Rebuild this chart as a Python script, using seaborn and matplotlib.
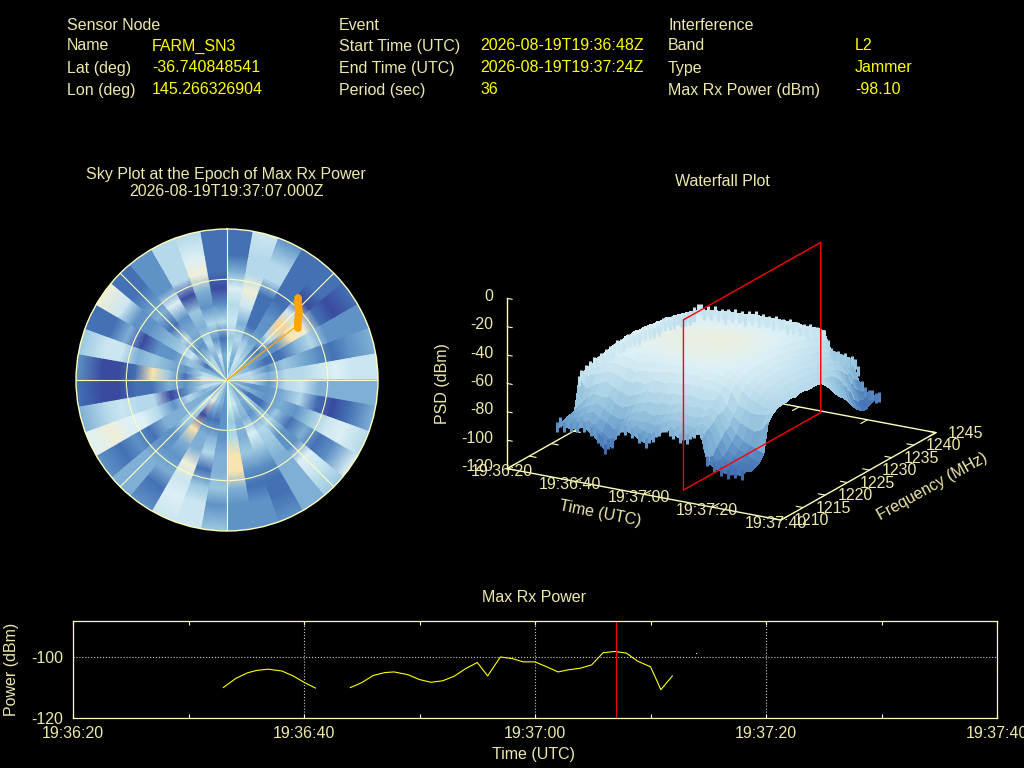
import numpy as np
import pandas as pd
import matplotlib
matplotlib.use("Agg")
import matplotlib.pyplot as plt
import seaborn as sns
from matplotlib.colors import Normalize
from mpl_toolkits.mplot3d.art3d import Line3DCollection

# header block
node_keys = ["Sensor Node", "Name", "Lat (deg)", "Lon (deg)"]
node_vals = ["", "FARM_SN3", "-36.740848541", "145.266326904"]
event_keys = ["Event", "Start Time (UTC)", "End Time (UTC)", "Period (sec)"]
event_vals = ["", "2026-08-19T19:36:48Z", "2026-08-19T19:37:24Z", "36"]
intf_keys = ["Interference", "Band", "Type", "Max Rx Power (dBm)"]
intf_vals = ["", "L2", "Jammer", "-98.10"]

# sky plot, colour level per 10 deg azimuth bin (clockwise from north), inner ring first
sky_ring1 = [3,3,5,5,4,4,6,6,5, 4,4,5,5,3,3,4,4,6, 3,3,4,4,2,2,6,6,5, 6,6,4,4,5,5,3,3,2]
sky_ring2 = [7,3,6,5,3,3,3,5,5, 5,2,3,1,5,3,4,6,7, 2,3,4,8,6,3,3,5,4, 6,5,3,1,4,5,3,6,3]
sky_ring3 = [4,5,4,3,1,2,1,2,3, 2,2,2,1,3,2,3,3,4, 2,1,1,0,4,3,5,2,2, 1,2,4,6,2,2,5,2,1]
sky_ring4 = [6,3,1,2,5,2,1,4,5, 5,3,3,4,5,5,7,3,5, 2,3,3,9,4,3,2,0,3, 4,3,2,4,5,3,3,5,5]
sky_ring5 = [5,6,1,2,10,9,3,3,5, 6,5,2,1,2,4,4,4,9, 3,5,3,3,2,3,5,5,1, 9,4,2,3,1,2,4,2,2]
sky_ring6 = [7,8,1,1,6,8,5,2,6, 3,1,4,3,2,3,2,2,9, 3,1,8,2,2,1,7,5,1, 1,3,0,2,3,7,0,3,0]
sky_ring7 = [3,5,5,1,0,1,2,1,7, 3,0,6,1,7,3,1,1,3, 4,4,6,3,3,2,7,6,0, 0,6,3,2,2,2,5,8,1]
sky_ring8 = [1,5,5,1,1,0,2,2,6, 3,1,7,2,6,3,1,2,2, 2,6,7,1,3,1,8,5,0, 0,6,1,6,1,2,5,7,1]
sky_ring9 = [1,6,2,1,1,1,2,3,6, 3,3,5,7,4,3,2,2,2, 4,6,6,2,3,2,7,3,1, 2,4,1,8,1,2,5,5,1]
sky_r_nodes = [0, 15, 25, 35, 45, 55, 65, 75, 90]
sky_colors = ["#3a4aa0", "#4472b4", "#5f92c6", "#80b0d5", "#9cc8e0", "#b5d9ea",
              "#cbe6f1", "#ddf0f6", "#f0efd8", "#f8e4b0", "#fdcf90"]
sat_az = [40.9, 43.0, 45.8, 48.0, 49.8, 52.0, 53.8]
sat_r = [64.7, 62.0, 59.8, 57.5, 55.4, 53.5, 52.4]
los_az = [0, 52.2]
los_r = [0, 50.4]

# waterfall, seconds after 19:36:20 and MHz
psd_time = [10,12,14,16,18,20,22,24,26,28,30,32,34,36,38,40,42,44,46,48,50,52,54,56,58,60,62,64]
psd_freq = [1213.5 + i for i in range(32)]
psd = [
[-93,-91,-90,-89,-88,-67,-64,-63,-62,-60,-61,-59,-60,-58,-59,-57,-58,-58,-58,-59,-59,-60,-60,-61,-61,-62,-62,-63,-63,-64,-64,-65],
[-90,-92,-89,-87,-82,-74,-66,-60,-57,-56,-55,-54,-53,-54,-52,-53,-52,-54,-53,-54,-55,-54,-56,-55,-57,-57,-58,-59,-60,-61,-62,-63],
[-92,-89,-88,-83,-77,-71,-64,-58,-54,-52,-52,-50,-51,-49,-50,-49,-50,-51,-50,-52,-51,-53,-52,-54,-54,-55,-57,-58,-60,-60,-62,-63],
[-90,-87,-84,-80,-74,-68,-62,-57,-53,-51,-50,-49,-48,-50,-49,-48,-49,-50,-49,-51,-50,-52,-51,-53,-53,-55,-56,-58,-59,-60,-61,-62],
[-89,-87,-82,-78,-75,-66,-61,-56,-53,-50,-49,-48,-49,-47,-48,-47,-48,-49,-48,-50,-49,-51,-52,-52,-54,-54,-56,-57,-58,-59,-60,-62],
[-92,-90,-86,-81,-74,-69,-62,-58,-52,-50,-48,-49,-47,-48,-46,-47,-47,-48,-49,-48,-50,-51,-50,-52,-53,-54,-55,-56,-57,-59,-60,-61],
[-96,-93,-88,-84,-78,-71,-65,-58,-54,-51,-49,-48,-48,-46,-47,-46,-46,-48,-47,-49,-49,-50,-51,-52,-52,-54,-55,-56,-57,-58,-60,-61],
[-102,-97,-92,-86,-80,-73,-66,-60,-55,-51,-50,-48,-47,-47,-46,-46,-47,-47,-48,-48,-50,-49,-51,-51,-53,-53,-55,-56,-57,-58,-59,-61],
[-98,-94,-89,-85,-78,-72,-64,-58,-54,-52,-49,-48,-48,-46,-46,-45,-46,-46,-47,-48,-48,-50,-50,-51,-52,-54,-53,-55,-56,-57,-59,-60],
[-88,-86,-84,-80,-75,-70,-65,-58,-53,-50,-49,-47,-47,-46,-45,-46,-45,-47,-46,-48,-47,-49,-50,-51,-51,-53,-54,-54,-56,-57,-58,-60],
[-86,-85,-82,-78,-74,-67,-62,-57,-52,-50,-48,-47,-46,-46,-45,-45,-46,-45,-47,-47,-48,-48,-50,-50,-52,-52,-54,-55,-55,-57,-58,-60],
[-87,-84,-83,-77,-72,-68,-61,-56,-53,-49,-48,-47,-46,-45,-45,-44,-45,-46,-46,-47,-47,-49,-49,-51,-51,-53,-53,-55,-56,-56,-58,-60],
[-90,-86,-82,-79,-73,-66,-62,-55,-52,-50,-47,-47,-45,-45,-44,-45,-44,-46,-45,-47,-48,-48,-50,-50,-52,-52,-54,-54,-56,-57,-58,-60],
[-92,-88,-84,-78,-71,-67,-60,-56,-51,-49,-48,-46,-46,-44,-45,-44,-45,-45,-46,-46,-48,-47,-49,-50,-51,-52,-53,-55,-55,-57,-58,-60],
[-88,-85,-81,-76,-72,-65,-60,-54,-52,-49,-47,-47,-45,-45,-44,-44,-44,-46,-45,-47,-47,-49,-49,-51,-51,-53,-54,-54,-56,-56,-58,-60],
[-83,-82,-78,-75,-70,-66,-59,-55,-51,-48,-48,-46,-46,-44,-45,-44,-45,-45,-46,-46,-48,-48,-50,-50,-52,-52,-54,-55,-55,-57,-59,-60],
[-79,-80,-77,-73,-69,-64,-60,-54,-52,-49,-47,-47,-45,-45,-45,-45,-45,-46,-46,-47,-47,-49,-49,-51,-52,-53,-53,-55,-56,-57,-58,-61],
[-82,-81,-78,-74,-70,-65,-59,-56,-52,-50,-48,-47,-47,-46,-46,-45,-46,-46,-47,-47,-49,-48,-50,-51,-51,-53,-54,-55,-56,-57,-59,-61],
[-84,-83,-79,-75,-69,-66,-61,-56,-53,-50,-49,-48,-47,-47,-46,-47,-47,-47,-48,-48,-49,-50,-50,-52,-52,-54,-54,-56,-56,-58,-59,-61],
[-84,-82,-80,-74,-71,-65,-60,-57,-54,-51,-50,-49,-49,-48,-48,-48,-48,-49,-49,-50,-50,-51,-52,-52,-54,-54,-56,-56,-58,-58,-60,-62],
[-80,-79,-76,-72,-68,-64,-62,-58,-55,-53,-52,-51,-50,-50,-50,-50,-50,-51,-51,-52,-52,-54,-54,-55,-56,-57,-58,-59,-64,-68,-72,-75],
[-78,-80,-78,-76,-72,-72,-70,-62,-58,-56,-54,-54,-53,-53,-53,-53,-53,-54,-54,-55,-56,-56,-58,-58,-60,-61,-62,-64,-66,-70,-74,-76],
[-97,-95,-90,-86,-82,-80,-76,-70,-62,-59,-58,-57,-56,-56,-56,-55,-56,-57,-57,-58,-58,-60,-61,-62,-63,-64,-66,-67,-70,-73,-76,-77],
[-100,-99,-97,-94,-90,-86,-80,-72,-66,-62,-60,-60,-59,-58,-59,-58,-59,-59,-60,-60,-61,-62,-63,-64,-66,-67,-68,-70,-72,-75,-76,-78],
[-102,-101,-99,-97,-94,-90,-82,-74,-68,-65,-63,-62,-62,-61,-61,-61,-61,-62,-62,-63,-64,-65,-66,-67,-68,-70,-71,-74,-78,-84,-90,-92],
[-103,-102,-101,-100,-96,-92,-84,-74,-70,-67,-66,-65,-64,-64,-63,-64,-64,-65,-65,-66,-67,-68,-69,-70,-72,-74,-76,-80,-88,-94,-98,-99],
[-102,-103,-102,-101,-99,-94,-82,-73,-70,-68,-67,-67,-66,-66,-66,-65,-66,-67,-67,-68,-70,-71,-72,-74,-78,-84,-90,-97,-100,-101,-100,-101],
[-102,-101,-103,-102,-100,-96,-76,-71,-69,-68,-68,-67,-68,-67,-67,-68,-68,-68,-69,-72,-76,-81,-85,-88,-92,-97,-101,-104,-105,-103,-102,-101],
]
# rough edges of the surface, read every second / half MHz along its silhouette
edge_time = list(range(10, 65))
edge_low = [-96,-92,-95,-90,-94,-91,-93,-89,-92,-90,-94,-92,-98,-100,-105,-101,-100,-93,-90,-87,-89,-86,-90,-88,
            -93,-91,-95,-91,-90,-86,-85,-82,-81,-84,-85,-83,-87,-85,-87,-83,-82,-79,-81,-88,-100,-99,-103,-101,
            -105,-102,-106,-103,-105,-102,-105]
edge_back = [-62,-60,-59,-63,-60,-62,-59,-62,-60,-63,-59,-61,-58,-61,-59,-62,-58,-60,-57,-61,-58,-60,-59,-61,-58,
             -60,-59,-62,-58,-61,-59,-62,-60,-62,-59,-61,-60,-62,-61,-68,-73,-75,-74,-76,-75,-77,-76,-78,-82,-92,
             -96,-98,-97,-99,-98]
edge_freq = [1218.5 + 0.5 * i for i in range(53)]
edge_left = [-65,-62,-64,-60,-62,-59,-62,-58,-61,-59,-58,-60,-57,-59,-56,-59,-57,-55,-58,-56,-59,-57,-55,-58,-56,
             -59,-57,-60,-58,-56,-59,-57,-60,-58,-61,-59,-62,-60,-58,-61,-59,-62,-60,-63,-61,-62,-64,-62,-65,-63,
             -66,-64,-66]
epoch_sec = 47
slice_freq = [1213.5, 1244.5]
time_labels = ["19:36:20", "19:36:40", "19:37:00", "19:37:20", "19:37:40"]
time_ticks = [0, 20, 40, 60, 80]
freq_ticks = [1210, 1215, 1220, 1225, 1230, 1235, 1240, 1245]
psd_ticks = [0, -20, -40, -60, -80, -100, -120]

# max rx power trace
pow_t1 = [13.0, 14.1, 15.1, 15.9, 16.9, 18.1, 19.1, 20.1, 21.0]
pow_v1 = [-110.05, -107.0, -105.2, -104.4, -104.0, -104.6, -106.3, -108.5, -110.2]
pow_t2 = [24.0, 25.0, 26.0, 27.0, 27.8, 29.0, 30.0, 31.0, 32.0, 33.0, 34.0, 35.0, 35.9, 37.0, 38.0,
          39.0, 40.0, 41.0, 42.0, 42.9, 43.9, 44.9, 45.9, 46.9, 47.9, 48.9, 50.0, 50.9, 51.9]
pow_v2 = [-110.05, -108.4, -106.05, -105.1, -104.9, -105.8, -107.4, -108.3, -107.8, -106.3, -103.8,
          -101.8, -106.2, -100.0, -100.5, -101.6, -101.6, -103.2, -104.9, -104.2, -103.7, -102.6,
          -98.6, -98.2, -98.7, -101.4, -103.2, -110.7, -106.2]
pow_lone_t = [53.9]
pow_lone_v = [-99.0]

TXT = "#eee8aa"
LINE = "#ffffbb"
W, H = 1024, 768

sns.set_theme(style="dark", rc={"figure.facecolor": "black", "axes.facecolor": "black",
                                "savefig.facecolor": "black", "text.color": TXT,
                                "xtick.color": TXT, "ytick.color": TXT, "axes.labelcolor": TXT,
                                "axes.unicode_minus": False})
plt.rcParams["font.family"] = ["Liberation Sans", "DejaVu Sans"]
plt.rcParams["font.size"] = 11.5

fig = plt.figure(figsize=(W / 100, H / 100), dpi=100)


def put(x, y, s, **kw):
    kw.setdefault("va", "center")
    fig.text(x / W, 1 - (y + 1) / H, s, **kw)


rows_y = [24, 45, 67, 89]
for keys, vals, x0, x1 in [(node_keys, node_vals, 67, 152),
                           (event_keys, event_vals, 339, 480),
                           (intf_keys, intf_vals, 668, 855)]:
    for y, k, v in zip(rows_y, keys, vals):
        put(x0, y, k, color=TXT)
        put(x1, y, v, color="#ffff00")

put(226, 174, "Sky Plot at the Epoch of Max Rx Power", ha="center", color=TXT)
put(226, 190, "2026-08-19T19:37:07.000Z", ha="center", color=TXT)
put(722, 181, "Waterfall Plot", ha="center", color=TXT)
put(534, 596, "Max Rx Power", ha="center", color=TXT)

sky_cmap = sns.blend_palette(sky_colors, n_colors=256, as_cmap=True)

# sky plot: sharp edges between azimuth bins, soft between rings
R = 151
ax_sky = fig.add_axes([(227 - R) / W, (H - 380 - R) / H, 2 * R / W, 2 * R / H], projection="polar")
ax_sky.set_theta_zero_location("N")
ax_sky.set_theta_direction(-1)
sky = np.array([sky_ring1, sky_ring2, sky_ring3, sky_ring4, sky_ring5,
                sky_ring6, sky_ring7, sky_ring8, sky_ring9])
sky = np.repeat(sky, 2, axis=1)
az_nodes = np.deg2rad(np.ravel([[a, a + 9.99] for a in range(0, 360, 10)]))
ax_sky.pcolormesh(az_nodes, sky_r_nodes, sky, cmap=sky_cmap, vmin=0, vmax=10, shading="gouraud", zorder=0)
ax_sky.plot(np.deg2rad(los_az), los_r, color="#ffa500", lw=0.9, zorder=3)
ax_sky.plot(np.deg2rad(sat_az), sat_r, color="#ffa500", lw=5.5, solid_capstyle="round", zorder=3)
ax_sky.set_ylim(0, 90)
ax_sky.set_rgrids([30, 60], labels=[])
ax_sky.set_thetagrids(range(0, 360, 45), labels=[])
ax_sky.set_axisbelow(False)
ax_sky.grid(True, color=LINE, lw=0.8, ls="-")
ax_sky.spines["polar"].set_color(LINE)
ax_sky.spines["polar"].set_linewidth(1)

# waterfall
size = 464
cx, cy = 721.5, 365.5
ax3 = fig.add_axes([(cx - 0.5135 * size) / W, (H - cy - 0.5135 * size) / H, size / W, size / H],
                   projection="3d", computed_zorder=False)
ax3.set_proj_type("ortho")
ax3.view_init(elev=19, azim=-60)
ax3.set_box_aspect((316, 310, 180))
ax3.set_axis_off()
ax3.patch.set_alpha(0)
ax3.set_xlim(0, 80)
ax3.set_ylim(1210, 1245)
ax3.set_zlim(-120, 0)

for xs, ys in [([0, 80], [1210, 1210]), ([0, 0], [1210, 1245]),
               ([80, 80], [1210, 1245]), ([0, 80], [1245, 1245])]:
    ax3.plot(xs, ys, [-120, -120], color=LINE, lw=1, zorder=1)
for t in range(0, 81, 20):
    ax3.plot([t, t], [1210, 1211.5], [-120, -120], color=LINE, lw=0.8, zorder=1)
    ax3.plot([t, t], [1245, 1243.5], [-120, -120], color=LINE, lw=0.8, zorder=1)
for f in freq_ticks:
    ax3.plot([80, 78], [f, f], [-120, -120], color=LINE, lw=0.8, zorder=1)
    ax3.plot([0, 2], [f, f], [-120, -120], color=LINE, lw=0.8, zorder=1)

psd_norm = Normalize(-112, -24)
T, F = np.meshgrid(psd_time, psd_freq, indexing="ij")
ax3.plot_surface(T, F, np.array(psd, dtype=float), cmap=sky_cmap, norm=psd_norm,
                 rstride=1, cstride=1, linewidth=0, antialiased=False, shade=False, zorder=2)

segs, cols = [], []
for t, z in zip(edge_time, edge_low):
    segs.append([(t, slice_freq[0], z), (t, slice_freq[0], z + 7)])
    cols.append(sky_cmap(psd_norm(z)))
for t, z in zip(edge_time, edge_back):
    segs.append([(t, slice_freq[1], z), (t, slice_freq[1], z - 7)])
    cols.append(sky_cmap(psd_norm(z)))
for f, z in zip(edge_freq, edge_left):
    segs.append([(psd_time[0], f, z), (psd_time[0], f, z - 7)])
    cols.append(sky_cmap(psd_norm(z)))
ax3.add_collection3d(Line3DCollection(segs, colors=cols, linewidths=2.2, capstyle="butt", zorder=2.5))

ax3.plot([0, 0], [1210, 1210], [-120, 0], color=LINE, lw=1, zorder=4)
for z in psd_ticks:
    ax3.plot([0, 1.5], [1210, 1210], [z, z], color=LINE, lw=0.8, zorder=4)
    ax3.text(-4, 1210, z - 0.5, str(z), ha="right", va="center", color=TXT, zorder=5)
ax3.plot([epoch_sec] * 5, [slice_freq[0], slice_freq[1], slice_freq[1], slice_freq[0], slice_freq[0]],
         [-120, -120, 0, 0, -120], color="red", lw=1, zorder=3)
for t, lab in zip(time_ticks, time_labels):
    ax3.text(t - 1.5, 1210, -123, lab, ha="center", va="center", color=TXT, zorder=5)
for f in freq_ticks:
    ax3.text(88.8, f, -116.5, str(f), ha="center", va="center", color=TXT, zorder=5)

put(443, 383, "PSD (dBm)", rotation=90, ha="center", color=TXT)
put(600, 513, "Time (UTC)", rotation=-11, ha="center", color=TXT, rotation_mode="anchor")
put(932, 486, "Frequency (MHz)", rotation=29, ha="center", color=TXT, rotation_mode="anchor")

# max rx power
ax_p = fig.add_axes([73 / W, (H - 718) / H, 924 / W, 97 / H])
power = pd.DataFrame({"t": pow_t1 + pow_t2, "power": pow_v1 + pow_v2,
                      "segment": [1] * len(pow_t1) + [2] * len(pow_t2)})
sns.lineplot(data=power, x="t", y="power", hue="segment", palette=["#ffff00", "#ffff00"],
             legend=False, sort=False, errorbar=None, lw=0.8, ax=ax_p)
ax_p.plot(pow_lone_t, pow_lone_v, ",", color="#ffff00")
ax_p.axvline(epoch_sec, color="red", lw=0.8)
ax_p.set_xlim(0, 80)
ax_p.set_ylim(-120, -88.2)
ax_p.set_xticks(time_ticks, labels=time_labels)
ax_p.set_xticks([10, 30, 50, 70], minor=True)
ax_p.set_yticks([-100, -120])
ax_p.grid(True, which="major", color="#cccccc", lw=0.8, ls=":")
ax_p.tick_params(axis="x", which="both", direction="in", top=True, bottom=True, length=3, color=LINE,
                 width=0.8, pad=6, labelsize=11.5, labelcolor=TXT)
ax_p.tick_params(axis="y", direction="in", length=0, pad=7, labelsize=11.5, labelcolor=TXT)
for s in ax_p.spines.values():
    s.set_color(LINE)
    s.set_linewidth(0.9)
ax_p.set_xlabel("")
ax_p.set_ylabel("")
put(534, 753, "Time (UTC)", ha="center", color=TXT)
put(12, 668, "Power (dBm)", rotation=90, ha="center", color=TXT)

fig.savefig("out.png", dpi=100, facecolor="black")
